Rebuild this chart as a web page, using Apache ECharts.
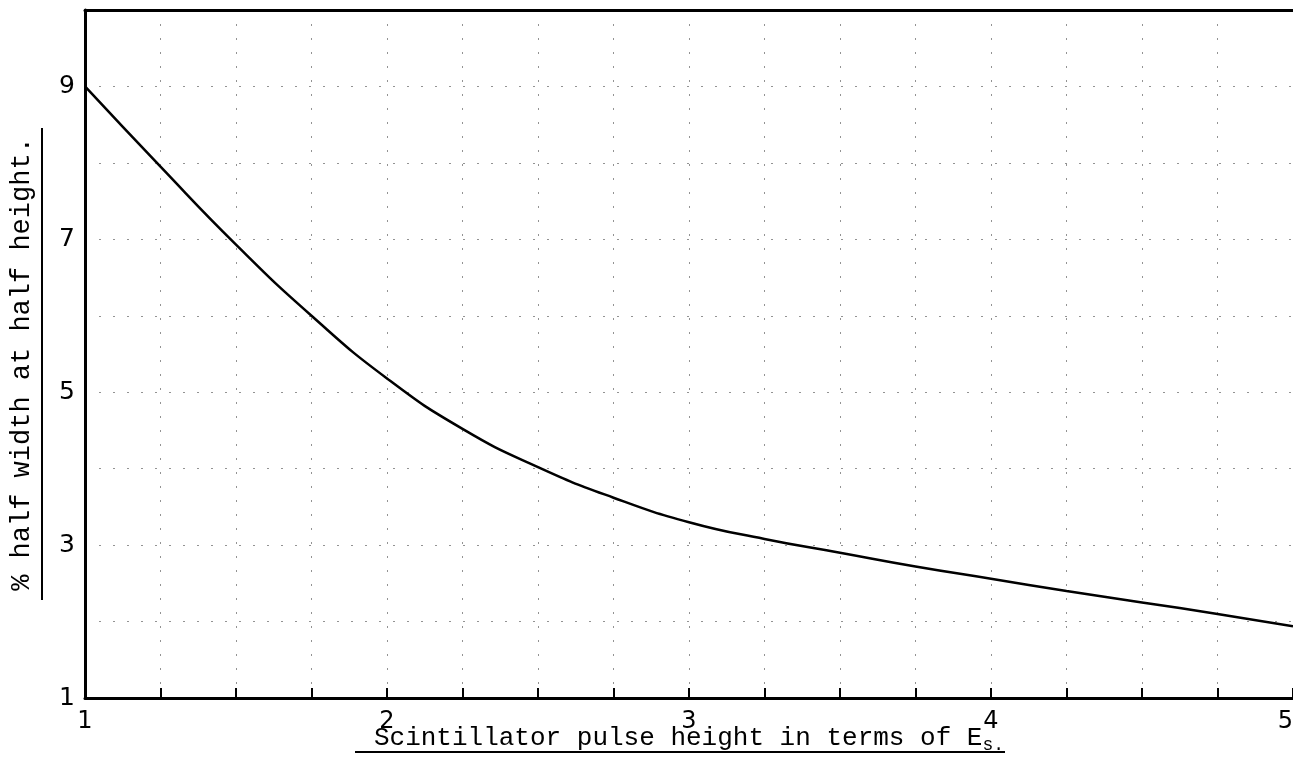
<!DOCTYPE html>
<html>
<head>
<meta charset="utf-8">
<script src="https://cdn.jsdelivr.net/npm/echarts@6/dist/echarts.min.js"></script>
<style>
  html, body { margin: 0; padding: 0; background: #fff; }
  #chart { width: 1293px; height: 779px; }
</style>
</head>
<body>
<div id="chart"></div>
<script>
// pulse height (units of Es) vs % half width at half height
const pulseHeight = [1, 1.25, 1.5, 1.75, 2, 2.25, 2.5, 2.75, 3, 3.25, 3.5, 3.75, 4, 4.25, 4.5, 4.75, 5];
const halfWidth = [9.0, 7.95, 6.93, 6.0, 5.18, 4.52, 4.02, 3.62, 3.3, 3.08, 2.9, 2.72, 2.56, 2.4, 2.25, 2.1, 1.94];
const xTickLabels = [1, 2, 3, 4, 5];
const yTickLabels = [1, 3, 5, 7, 9];

const chart = echarts.init(document.getElementById('chart'));

const monoFont = '"Liberation Mono", "DejaVu Sans Mono", monospace';
const dotted = { color: 'rgba(40,40,40,0.5)', width: 1, type: [2, 12] };

chart.setOption({
  backgroundColor: '#fff',
  animation: false,
  grid: { left: 85, top: 10, right: 0, bottom: 81, outerBoundsMode: 'none' },
  xAxis: [
    {
      type: 'value',
      min: 1,
      max: 5,
      interval: 0.25,
      axisLine: { show: true, lineStyle: { color: '#000', width: 3 } },
      axisTick: { show: true, inside: true, length: 10, lineStyle: { color: '#000', width: 2 } },
      axisLabel: {
        margin: 12,
        fontFamily: '"DejaVu Sans", sans-serif',
        fontSize: 24,
        color: '#000',
        alignMaxLabel: 'right',
        formatter: v => (xTickLabels.indexOf(v) >= 0 ? String(v) : '')
      },
      splitLine: { show: true, lineStyle: dotted },
      name: '{a|Scintillator pulse height in terms of E}{s|s.}',
      nameLocation: 'middle',
      nameGap: 24,
      nameMoveOverlap: false,
      nameTextStyle: {
        rich: {
          a: { fontFamily: monoFont, fontSize: 26, color: '#000' },
          s: { fontFamily: monoFont, fontSize: 18, color: '#000', padding: [14, 0, 0, 0] }
        }
      }
    },
    {
      type: 'value',
      position: 'top',
      min: 1,
      max: 5,
      axisLine: { show: true, onZero: false, lineStyle: { color: '#000', width: 3 } },
      axisTick: { show: false },
      axisLabel: { show: false },
      splitLine: { show: false }
    }
  ],
  yAxis: {
    type: 'value',
    min: 1,
    max: 10,
    interval: 1,
    axisLine: { show: true, lineStyle: { color: '#000', width: 3 } },
    axisTick: { show: false },
    axisLabel: {
      margin: 10,
      fontFamily: '"DejaVu Sans", sans-serif',
      fontSize: 25,
      color: '#000',
      formatter: v => (yTickLabels.indexOf(v) >= 0 ? String(v) : '')
    },
    splitLine: { show: true, lineStyle: dotted },
    name: '% half width at half height.',
    nameLocation: 'middle',
    nameGap: 50,
    nameMoveOverlap: false,
    nameTextStyle: { fontFamily: monoFont, fontSize: 27, color: '#000', padding: [0, 20, 0, 0] }
  },
  graphic: [
    // underlines of the typed axis titles
    { type: 'line', shape: { x1: 355, y1: 752, x2: 1005, y2: 752 }, style: { stroke: '#000', lineWidth: 2 } },
    { type: 'line', shape: { x1: 42, y1: 128, x2: 42, y2: 600 }, style: { stroke: '#000', lineWidth: 2 } }
  ],
  series: [
    {
      type: 'line',
      xAxisIndex: 0,
      data: pulseHeight.map((x, i) => [x, halfWidth[i]]),
      smooth: 0.5,
      showSymbol: false,
      lineStyle: { color: '#000', width: 2.5 }
    }
  ]
});
</script>
</body>
</html>
